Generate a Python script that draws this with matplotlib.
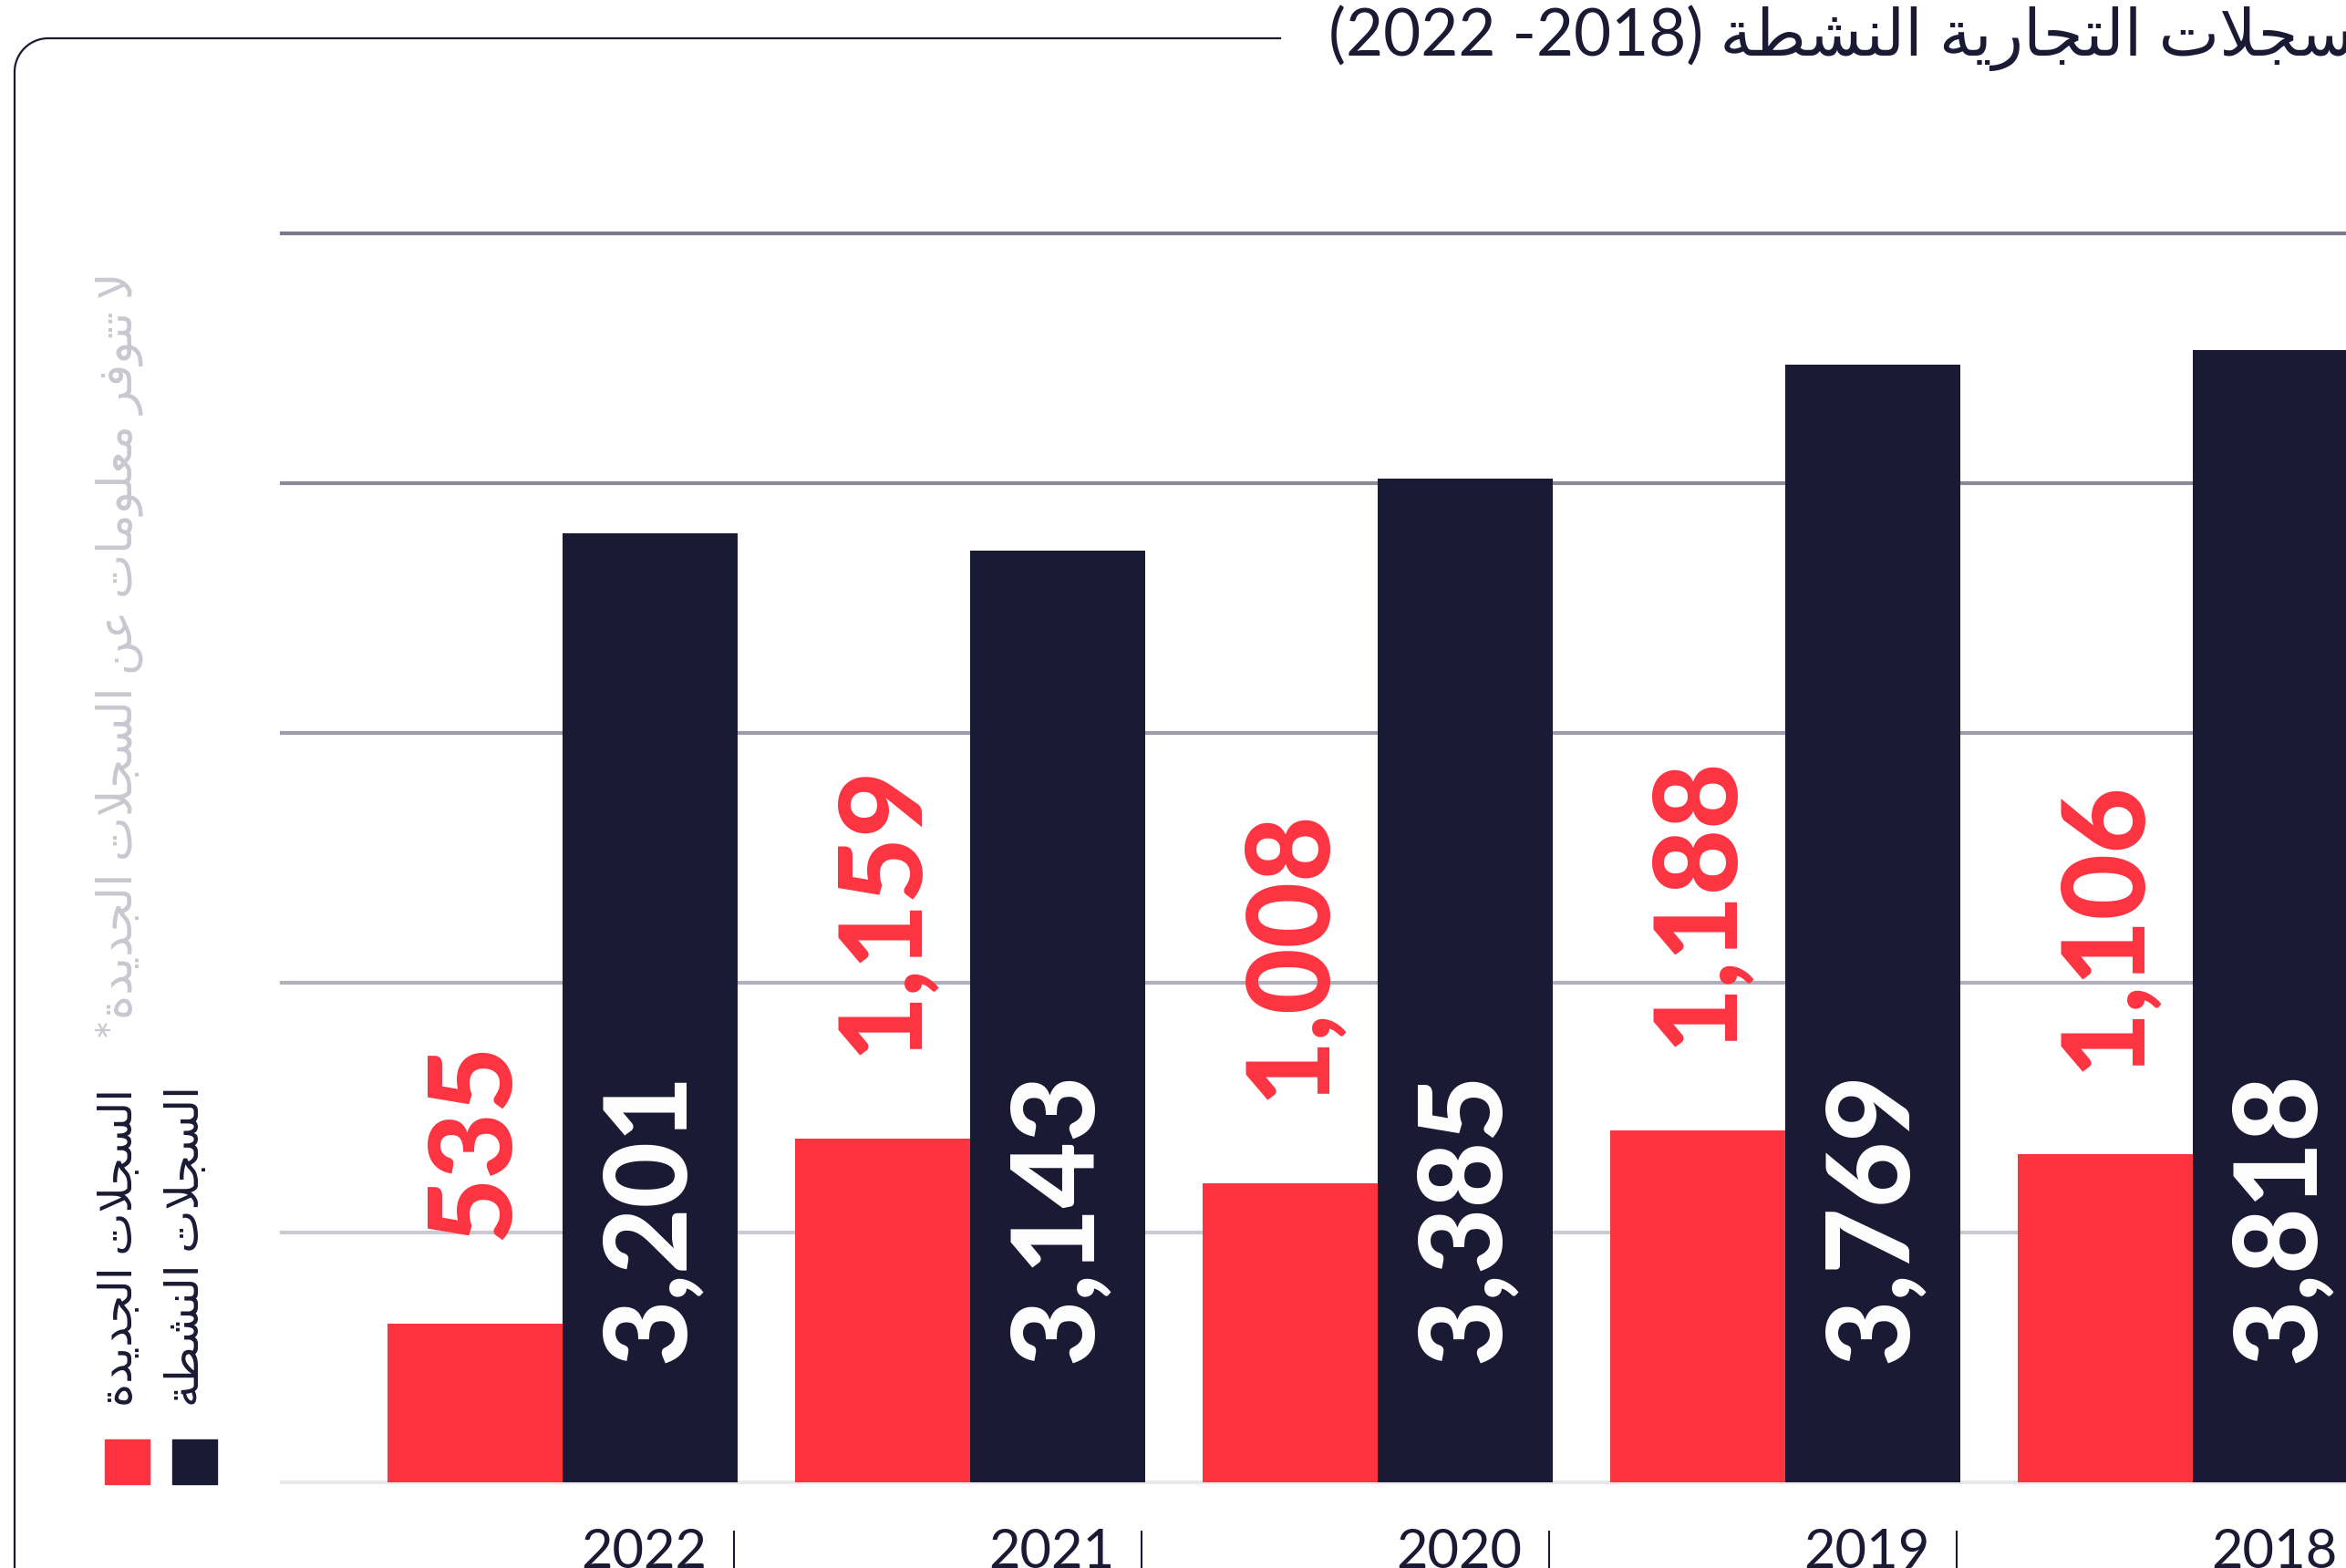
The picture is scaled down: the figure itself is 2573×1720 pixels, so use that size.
import numpy as np
import matplotlib.pyplot as plt
from matplotlib.patches import Rectangle

plt.rcParams['font.family'] = ['Lato', 'DejaVu Sans']

years = ['2022', '2021', '2020', '2019', '2018']
new_records = [535, 1159, 1008, 1188, 1106]
active_records = [3201, 3143, 3385, 3769, 3818]

title_years = '(2022 -2018)'
title_ar = 'السجلات التجارية النشطة'
legend_new = 'السجلات الجديدة'
legend_active = 'السجلات النشطة'
footnote = 'لا تتوفر معلومات عن السجلات الجديدة*'

red = '#fd3340'
navy = '#1b1a35'
grid_colors = ['#e8e7ea', '#cbc9d1', '#b1afbc', '#9e9cab', '#8c8a9a', '#7b7a8c']

## arabic letters -> (isolated, final, initial, medial) presentation forms
FORMS = {
    'ا': ('\ufe8d', '\ufe8e'),
    'ة': ('\ufe93', '\ufe94'),
    'ت': ('\ufe95', '\ufe96', '\ufe97', '\ufe98'),
    'ج': ('\ufe9d', '\ufe9e', '\ufe9f', '\ufea0'),
    'د': ('\ufea9', '\ufeaa'),
    'ر': ('\ufead', '\ufeae'),
    'س': ('\ufeb1', '\ufeb2', '\ufeb3', '\ufeb4'),
    'ش': ('\ufeb5', '\ufeb6', '\ufeb7', '\ufeb8'),
    'ط': ('\ufec1', '\ufec2', '\ufec3', '\ufec4'),
    'ع': ('\ufec9', '\ufeca', '\ufecb', '\ufecc'),
    'ف': ('\ufed1', '\ufed2', '\ufed3', '\ufed4'),
    'ل': ('\ufedd', '\ufede', '\ufedf', '\ufee0'),
    'م': ('\ufee1', '\ufee2', '\ufee3', '\ufee4'),
    'ن': ('\ufee5', '\ufee6', '\ufee7', '\ufee8'),
    'و': ('\ufeed', '\ufeee'),
    'ي': ('\ufef1', '\ufef2', '\ufef3', '\ufef4'),
}
LAM_ALEF = ('\ufefb', '\ufefc')


def rtl(text):
    ##matplotlib has no arabic shaping, so join letters by hand and flip to visual order
    out = []
    i = 0
    prev_joins = False
    while i < len(text):
        c = text[i]
        if c not in FORMS:
            out.append(c)
            prev_joins = False
            i += 1
            continue
        if c == 'ل' and i + 1 < len(text) and text[i + 1] == 'ا':
            out.append(LAM_ALEF[1 if prev_joins else 0])
            prev_joins = False
            i += 2
            continue
        f = FORMS[c]
        joins_next = len(f) == 4 and i + 1 < len(text) and text[i + 1] in FORMS
        if prev_joins and joins_next:
            g = f[3]
        elif prev_joins:
            g = f[1]
        elif joins_next:
            g = f[2]
        else:
            g = f[0]
        out.append(g)
        prev_joins = joins_next
        i += 1
    return ''.join(out[::-1])


W, H = 2573, 1720
fig = plt.figure(figsize=(W / 100, H / 100), dpi=100)
ax = fig.add_axes([309 / W, 1 - 1626 / H, 1 - 309 / W, (1626 - 256) / H])

x = np.arange(len(years))
w = 0.43
ymax = 4212

ax.bar(x - w / 2, new_records, w, color=red, zorder=3)
ax.bar(x + w / 2, active_records, w, color=navy, zorder=3)

for lvl, col in zip(np.linspace(0, ymax, 6), grid_colors):
    ax.axhline(lvl, color=col, lw=3, zorder=1, clip_on=False)

ax.set_xlim(-0.689, 4.376)
ax.set_ylim(0, ymax)

##value labels, rotated like the original
for xi, v in zip(x, new_records):
    ax.annotate(f'{v:,}', (xi - w / 2, v), xytext=(0, 66), textcoords='offset points',
                rotation=90, ha='center', va='bottom', color=red,
                fontsize=90, fontweight='black', zorder=4)
for xi, v in zip(x, active_records):
    ax.annotate(f'{v:,}', (xi + w / 2, 0), xytext=(0, 94), textcoords='offset points',
                rotation=90, ha='center', va='bottom', color='white',
                fontsize=90, fontweight='black', zorder=4)

ax.set_xticks(x + w - 0.076, years)
ax.tick_params(axis='x', length=0, pad=36, labelsize=43, labelcolor=navy)
for lbl in ax.get_xticklabels():
    lbl.set_ha('right')
ax.set_yticks([])
for s in ax.spines.values():
    s.set_visible(False)
ax.vlines(x + w - 0.009, -0.039, -0.08, transform=ax.get_xaxis_transform(),
          color=navy, lw=1.5, clip_on=False)

##rounded frame around the chart, broken by the title
r, left, top = 37, 16, 42
theta = np.linspace(np.pi / 2, np.pi, 30)
px = np.concatenate([[1404], left + r + r * np.cos(theta), [left]])
py = np.concatenate([[top], top + r - r * np.sin(theta), [H + 10]])
fig.add_artist(plt.Line2D(px / W, 1 - py / H, transform=fig.transFigure, color=navy, lw=1.6))

fig.text(1457 / W, 1 - 42 / H, title_years + ' ' + rtl(title_ar), ha='left', va='center',
         fontsize=51, color=navy)

##legend squares and rotated labels
fig.add_artist(Rectangle((115 / W, 1 - 1628 / H), 49 / W, 49 / H, transform=fig.transFigure, color=red))
fig.add_artist(Rectangle((189 / W, 1 - 1628 / H), 49 / W, 49 / H, transform=fig.transFigure, color=navy))
fig.text(131 / W, 1 - 1543 / H, rtl(legend_new), rotation=90, ha='center', va='bottom',
         fontsize=36, color=navy)
fig.text(204 / W, 1 - 1543 / H, rtl(legend_active), rotation=90, ha='center', va='bottom',
         fontsize=36, color=navy)
fig.text(131 / W, 1 - 1140 / H, rtl(footnote), rotation=90, ha='center', va='bottom',
         fontsize=37.5, color='#c9c7d0')

plt.savefig('out.png', dpi=100)
